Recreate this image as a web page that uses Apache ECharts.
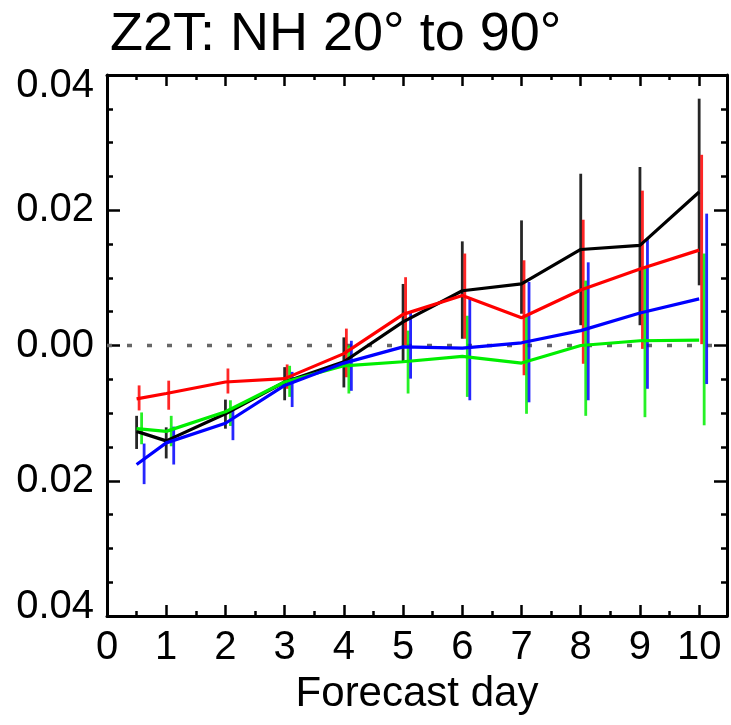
<!DOCTYPE html>
<html><head><meta charset="utf-8">
<script src="https://cdn.jsdelivr.net/npm/echarts@6/dist/echarts.min.js"></script>
<style>html,body{margin:0;padding:0;background:#fff}#c{width:731px;height:725px}</style>
</head><body><div id="c"></div>
<script>
const days = [0.5, 1, 2, 3, 4, 5, 6, 7, 8, 9, 10];
const xTickLabels = ['0','1','2','3','4','5','6','7','8','9','10'];
const yTickLabels = ['0.04','0.02','0.00','0.02','0.04'];

const blackMean = [-0.0127, -0.0141, -0.0101, -0.0054, -0.0024, 0.0035, 0.0081, 0.0091, 0.0142, 0.0148, 0.0227];
const blackLow  = [-0.0153, -0.0167, -0.0123, -0.0081, -0.0062, -0.0025, 0.0010, 0.0047, 0.0030, 0.0030, 0.0089];
const blackHigh = [-0.0104, -0.0121, -0.0080, -0.0032, 0.0012, 0.0091, 0.0154, 0.0185, 0.0254, 0.0264, 0.0365];

const redMean = [-0.0079, -0.0071, -0.0054, -0.0049, -0.0012, 0.0046, 0.0074, 0.0041, 0.0082, 0.0113, 0.0141];
const redLow  = [-0.0096, -0.0095, -0.0071, -0.0064, -0.0047, 0.0000, 0.0010, -0.0044, -0.0027, -0.0005, 0.0002];
const redHigh = [-0.0059, -0.0052, -0.0034, -0.0028, 0.0025, 0.0101, 0.0136, 0.0126, 0.0186, 0.0229, 0.0282];

const greenMean = [-0.0123, -0.0127, -0.0098, -0.0054, -0.0030, -0.0024, -0.0016, -0.0026, 0.0000, 0.0007, 0.0008];
const greenLow  = [-0.0146, -0.0149, -0.0119, -0.0076, -0.0071, -0.0071, -0.0076, -0.0101, -0.0104, -0.0106, -0.0118];
const greenHigh = [-0.0099, -0.0104, -0.0081, -0.0030, 0.0000, 0.0022, 0.0044, 0.0045, 0.0096, 0.0116, 0.0136];

const blueMean = [-0.0176, -0.0144, -0.0115, -0.0059, -0.0026, -0.0002, -0.0004, 0.0004, 0.0022, 0.0048, 0.0069];
const blueLow  = [-0.0205, -0.0176, -0.0140, -0.0091, -0.0067, -0.0049, -0.0081, -0.0084, -0.0081, -0.0064, -0.0057];
const blueHigh = [-0.0145, -0.0120, -0.0091, -0.0039, 0.0007, 0.0049, 0.0071, 0.0094, 0.0123, 0.0158, 0.0195];

const FONT = 'Liberation Sans';
const XMAX = 10.47;
const LABEL_SIZE = 40;

const groups = [
  {name:'black', color:'#000000', mean:blackMean, low:blackLow, high:blackHigh, off:0},
  {name:'red', color:'#ff0000', mean:redMean, low:redLow, high:redHigh, off:2.5},
  {name:'green', color:'#00ee00', mean:greenMean, low:greenLow, high:greenHigh, off:5},
  {name:'blue', color:'#0000ff', mean:blueMean, low:blueLow, high:blueHigh, off:7.5}
];

const series = [{
  type:'line', name:'zero', silent:true, z:1, symbol:'none',
  data:[[0,0],[XMAX,0]],
  lineStyle:{color:'#666666', width:3.5, type:[5,15]}
}];
groups.forEach(g => {
  series.push({
    type:'custom', name:g.name+'-err', z:2, silent:true,
    data: days.map((d,i)=>[d, g.low[i], g.high[i]]),
    renderItem: (params, api) => {
      const p1 = api.coord([api.value(0), api.value(1)]);
      const p2 = api.coord([api.value(0), api.value(2)]);
      return {type:'line', shape:{x1:p1[0]+g.off, y1:p1[1], x2:p2[0]+g.off, y2:p2[1]},
              style:{stroke:g.color, lineWidth:2.8, opacity:0.85}};
    }
  });
  series.push({
    type:'line', name:g.name, z:3, symbol:'none', silent:true,
    data: days.map((d,i)=>[d, g.mean[i]]),
    lineStyle:{color:g.color, width:3.2}
  });
});

const axisCommonX = {
  type:'value', min:0, max:XMAX, interval:1,
  axisLine:{show:true, onZero:false, lineStyle:{color:'#000', width:3}},
  axisTick:{show:true, inside:true, length:11, lineStyle:{color:'#000', width:2.5}},
  minorTick:{show:true, splitNumber:2, length:5, lineStyle:{color:'#000', width:2.5}},
  splitLine:{show:false}, minorSplitLine:{show:false}
};
const axisCommonY = {
  type:'value', min:-0.04, max:0.04, interval:0.02,
  axisLine:{show:true, onZero:false, lineStyle:{color:'#000', width:3}},
  axisTick:{show:true, inside:true, length:13, lineStyle:{color:'#000', width:2.5}},
  minorTick:{show:true, splitNumber:4, length:6, lineStyle:{color:'#000', width:2.5}},
  splitLine:{show:false}, minorSplitLine:{show:false}
};

const option = {
  animation:false,
  backgroundColor:'#ffffff',
  title:{text:'Z2T: NH 20° to 90°', left:105, top:3,
    textStyle:{fontFamily:FONT, fontSize:54, fontWeight:'normal', color:'#000'}},
  grid:{left:107, right:4, top:75, bottom:109, containLabel:false},
  xAxis:[
    Object.assign({}, axisCommonX, {position:'bottom',
      name:'Forecast day', nameLocation:'middle', nameGap:57,
      nameTextStyle:{fontFamily:FONT, fontSize:42, color:'#000'},
      axisLabel:{show:true, margin:12, fontFamily:FONT, fontSize:LABEL_SIZE, color:'#000',
        showMaxLabel:false,
        formatter:(v)=>{const i=Math.round(v); return Math.abs(v-i)<1e-6 && xTickLabels[i]!==undefined ? xTickLabels[i] : '';}}
    }),
    Object.assign({}, axisCommonX, {position:'top', axisLabel:{show:false}})
  ],
  yAxis:[
    Object.assign({}, axisCommonY, {position:'left',
      axisLabel:{show:true, margin:13, fontFamily:FONT, fontSize:LABEL_SIZE, color:'#000',
        formatter:(v)=>{
          const i=Math.round((v+0.04)/0.02);
          const t=yTickLabels[i]||'';
          if(i===yTickLabels.length-1) return '{top|'+t+'}';
          if(i===0) return '{bot|'+t+'}';
          return t;
        },
        rich:{
          top:{fontFamily:FONT, fontSize:LABEL_SIZE, color:'#000', padding:[22,0,0,0]},
          bot:{fontFamily:FONT, fontSize:LABEL_SIZE, color:'#000', padding:[0,0,18,0]}
        }}
    }),
    Object.assign({}, axisCommonY, {position:'right', axisLabel:{show:false}})
  ],
  series: series
};
const chart = echarts.init(document.getElementById('c'), null, {renderer:'canvas'});
chart.setOption(option);
</script>
</body></html>
